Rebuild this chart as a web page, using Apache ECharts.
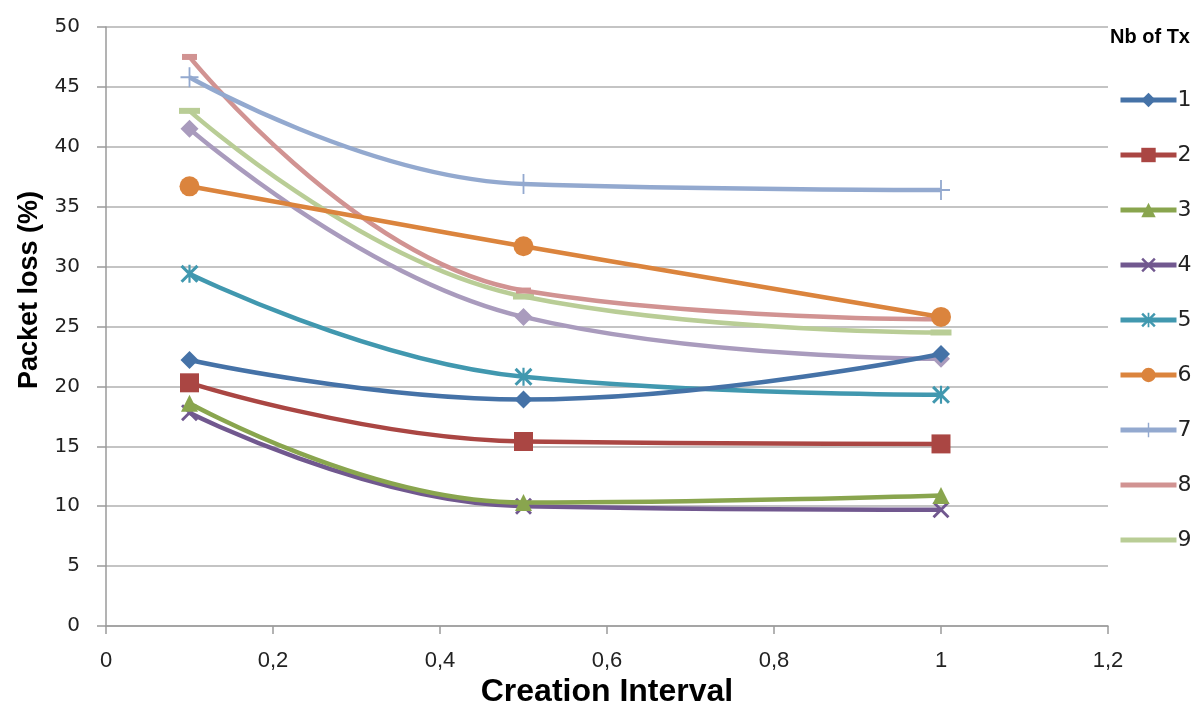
<!DOCTYPE html>
<html>
<head>
<meta charset="utf-8">
<script src="https://cdn.jsdelivr.net/npm/echarts@6/dist/echarts.min.js"></script>
<style>
  html, body { margin: 0; padding: 0; background: #fff; overflow: hidden; }
  #chart { position: absolute; left: 0; top: 0; width: 1199px; height: 707px; }
</style>
</head>
<body>
<div id="chart"></div>
<script>
// creation interval (x) values
const intervals = [0.1, 0.5, 1];

// packet loss (%) for each number of transmitters
const tx1 = [22.2, 18.9, 22.7];
const tx2 = [20.3, 15.4, 15.2];
const tx3 = [18.6, 10.3, 10.9];
const tx4 = [17.8, 10.0, 9.7];
const tx5 = [29.4, 20.8, 19.3];
const tx6 = [36.7, 31.7, 25.8];
const tx7 = [45.8, 36.9, 36.4];
const tx8 = [47.5, 28.0, 25.6];
const tx9 = [43.0, 27.5, 24.5];
const tx10 = [41.5, 25.8, 22.3];

const seriesNames = ['1', '2', '3', '4', '5', '6', '7', '8', '9', '10'];
const seriesValues = [tx1, tx2, tx3, tx4, tx5, tx6, tx7, tx8, tx9, tx10];

// excel 2007 style palette
const colors = ['#4572A7', '#AA4643', '#89A54E', '#71588F', '#4198AF',
                '#DB843D', '#93A9CF', '#D19392', '#B9CD96', '#A99BBD'];

// marker shapes (thin strokes drawn as filled paths)
const xPath = 'path://M0,1.2 L1.2,0 L10,8.8 L8.8,10 Z M8.8,0 L10,1.2 L1.2,10 L0,8.8 Z';
const starPath = xPath + ' M4.4,0 L5.6,0 L5.6,10 L4.4,10 Z';
const plusPath = 'path://M4.5,0 L5.5,0 L5.5,10 L4.5,10 Z M0,4.5 L10,4.5 L10,5.5 L0,5.5 Z';
const markers = [
  { symbol: 'diamond', size: 18 },
  { symbol: 'rect', size: 19 },
  { symbol: 'triangle', size: 17 },
  { symbol: xPath, size: 17 },
  { symbol: starPath, size: 18 },
  { symbol: 'circle', size: 20 },
  { symbol: plusPath, size: [18, 20] },
  { symbol: 'rect', size: [15, 6] },
  { symbol: 'rect', size: [21, 6] },
  { symbol: 'diamond', size: 18 }
];

const chart = echarts.init(document.getElementById('chart'), null, { renderer: 'canvas', width: 1199, height: 707 });

const series = seriesNames.map((name, i) => ({
  name: name,
  type: 'line',
  smooth: 0.45,
  data: intervals.map((x, j) => [x, seriesValues[i][j]]),
  symbol: markers[i].symbol,
  symbolSize: markers[i].size,
  showAllSymbol: true,
  lineStyle: { width: 4.5, color: colors[i] },
  itemStyle: { color: colors[i] },
  z: 10 - i
}));

// dash markers melt into the line in the legend, so hide them there
const legendData = seriesNames.slice(0, 9).map(name =>
  (name === '8' || name === '9') ? { name: name, itemStyle: { opacity: 0 } } : name);

chart.setOption({
  animation: false,
  backgroundColor: '#fff',
  color: colors,
  grid: { left: 106, right: 91, top: 27, bottom: 81, containLabel: false },
  xAxis: {
    type: 'value',
    min: 0,
    max: 1.2,
    interval: 0.2,
    axisLine: { lineStyle: { color: '#9a9a9a', width: 1.5 } },
    axisTick: { show: true, length: 8, lineStyle: { color: '#9a9a9a', width: 1.5 } },
    splitLine: { show: false },
    axisLabel: {
      fontFamily: 'Liberation Sans', fontSize: 22, color: '#222', margin: 24,
      formatter: v => String(Math.round(v * 10) / 10).replace('.', ',')
    }
  },
  yAxis: {
    type: 'value',
    min: 0,
    max: 50,
    interval: 5,
    axisLine: { show: true, lineStyle: { color: '#9a9a9a', width: 1.5 } },
    axisTick: { show: true, length: 9, lineStyle: { color: '#9a9a9a', width: 1.5 } },
    splitLine: { lineStyle: { color: '#b0b0b0', width: 1.5 } },
    axisLabel: { fontFamily: 'DejaVu Sans', fontSize: 20, color: '#222', margin: 26 }
  },
  legend: {
    orient: 'vertical',
    left: 1113,
    top: 84,
    data: legendData,
    itemWidth: 56,
    itemHeight: 18,
    itemGap: 33,
    lineStyle: { width: 5 },
    textStyle: { fontFamily: 'DejaVu Sans', fontSize: 22, color: '#222', lineHeight: 22, padding: [0, 0, 0, -4] }
  },
  graphic: [
    {
      type: 'text',
      left: 1110,
      top: 27,
      style: { text: 'Nb of Tx', fontFamily: 'Liberation Sans', fontWeight: 'bold', fontSize: 20, fill: '#000' }
    },
    {
      type: 'text',
      x: 30,
      y: 290,
      rotation: Math.PI / 2,
      style: {
        text: 'Packet loss (%)', fontFamily: 'Liberation Sans', fontWeight: 'bold', fontSize: 27,
        fill: '#000', align: 'center', verticalAlign: 'middle'
      }
    },
    {
      type: 'text',
      x: 607,
      y: 692,
      style: {
        text: 'Creation Interval', fontFamily: 'Liberation Sans', fontWeight: 'bold', fontSize: 32,
        fill: '#000', align: 'center', verticalAlign: 'middle'
      }
    }
  ],
  series: series
});
</script>
</body>
</html>
